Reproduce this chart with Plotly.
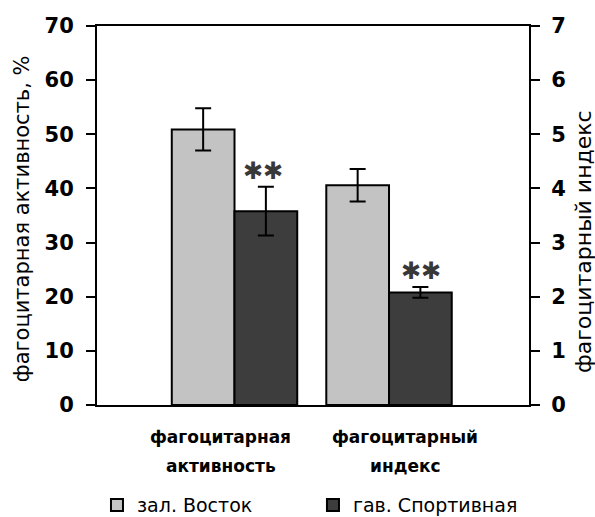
import plotly.graph_objects as go

# Data
categories = ["фагоцитарная активность", "фагоцитарный индекс"]
category_lines = [["фагоцитарная", "активность"], ["фагоцитарный", "индекс"]]
series_names = ["зал. Восток", "гав. Спортивная"]
activity_pct = [50.9, 35.8]        # фагоцитарная активность, % (left axis)
activity_err = [3.9, 4.5]
index_vals = [4.06, 2.08]          # фагоцитарный индекс (right axis)
index_err = [0.30, 0.10]
significance = ["", "✱✱"]
left_ticks = [0, 10, 20, 30, 40, 50, 60, 70]
right_ticks = [0, 1, 2, 3, 4, 5, 6, 7]
left_title = "фагоцитарная активность, %"
right_title = "фагоцитарный индекс"

colors = ["#c3c3c3", "#3d3d3d"]
legend_ids = ["legend", "legend2"]
FONT = "DejaVu Sans"

fig = go.Figure()
for i, name in enumerate(series_names):
    err_style = dict(type="data", thickness=2, width=8, color="black")
    fig.add_trace(go.Bar(
        x=[categories[0]], y=[activity_pct[i]],
        error_y=dict(array=[activity_err[i]], **err_style),
        name=name, legendgroup=name, offsetgroup=str(i), legend=legend_ids[i],
        marker=dict(color=colors[i], line=dict(color="black", width=2)),
        yaxis="y", showlegend=True,
    ))
    fig.add_trace(go.Bar(
        x=[categories[1]], y=[index_vals[i]],
        error_y=dict(array=[index_err[i]], **err_style),
        name=name, legendgroup=name, offsetgroup=str(i), legend=legend_ids[i],
        marker=dict(color=colors[i], line=dict(color="black", width=2)),
        yaxis="y2", showlegend=False,
    ))

# significance marks above the second series
for i, name in enumerate(series_names):
    if not significance[i]:
        continue
    fig.add_annotation(x=categories[0], xref="x", yref="y",
                       y=activity_pct[i] + activity_err[i],
                       text=significance[i], showarrow=False,
                       xshift=28, yshift=0, yanchor="bottom",
                       font=dict(family=FONT, size=24, color="#383838"))
    fig.add_annotation(x=categories[1], xref="x", yref="y2",
                       y=index_vals[i] + index_err[i],
                       text=significance[i], showarrow=False,
                       xshift=32, yshift=0, yanchor="bottom",
                       font=dict(family=FONT, size=24, color="#383838"))

# category labels below the axis, two widely spaced lines each
label_shift = [-14, 16]
for c, lines, s in zip(categories, category_lines, label_shift):
    for k, line in enumerate(lines):
        fig.add_annotation(x=c, xref="x", y=0, yref="paper", yanchor="middle",
                           yshift=-32 - 29 * k, xshift=s, text="<b>" + line + "</b>",
                           showarrow=False,
                           font=dict(family=FONT, size=17, color="black"))

# axis titles, rotated
fig.add_annotation(text=left_title, textangle=-90,
                   xref="paper", x=0, xanchor="center", xshift=-75,
                   yref="paper", y=0.49, yanchor="middle", showarrow=False,
                   font=dict(family=FONT, size=21, color="black"))
fig.add_annotation(text=right_title, textangle=-90,
                   xref="paper", x=1, xanchor="center", xshift=54,
                   yref="paper", y=0.43, yanchor="middle", showarrow=False,
                   font=dict(family=FONT, size=22, color="black"))

axis_common = dict(showline=True, linecolor="black", linewidth=2,
                   ticks="outside", ticklen=9, tickwidth=2, tickcolor="black",
                   showgrid=False, zeroline=False)
legend_common = dict(orientation="h", xref="container", xanchor="left",
                     y=-0.264, yanchor="middle",
                     font=dict(family=FONT, size=19, color="black"),
                     itemclick=False, itemdoubleclick=False)

fig.update_layout(
    width=595, height=517,
    margin=dict(l=97, r=66, t=26, b=112, autoexpand=False),
    paper_bgcolor="white", plot_bgcolor="white",
    barmode="group", bargap=0.188, bargroupgap=0,
    font=dict(family=FONT, color="black"),
    xaxis=dict(range=[-0.89, 1.906], showticklabels=False, ticks="",
               showline=True, linecolor="black", linewidth=2, mirror=True,
               showgrid=False, zeroline=False),
    yaxis=dict(range=[0, 70], tickvals=left_ticks, ticklabelstandoff=8,
               tickfont=dict(family=FONT, size=21, color="black", weight="bold"),
               **axis_common),
    yaxis2=dict(range=[0, 7], tickvals=right_ticks, overlaying="y", side="right",
                ticklabelstandoff=7,
                tickfont=dict(family=FONT, size=21, color="black", weight="bold"),
                **axis_common),
    legend=dict(x=0.163, **legend_common),
    legend2=dict(x=0.526, **legend_common),
    showlegend=True,
)

fig.write_html("out.html")
